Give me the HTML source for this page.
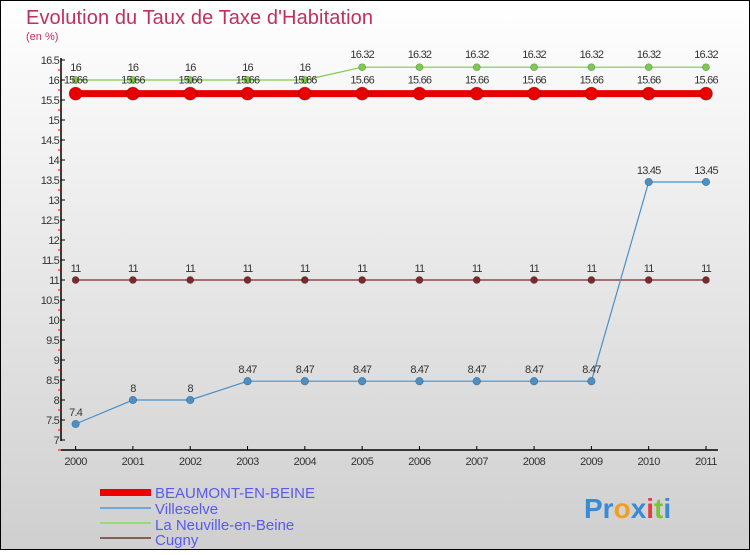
<!DOCTYPE html>
<html><head><meta charset="utf-8"><style>
html,body{margin:0;padding:0}
body{width:750px;height:550px;overflow:hidden;font-family:"Liberation Sans",sans-serif}
</style></head><body>
<svg id="chart" width="750" height="550" xmlns="http://www.w3.org/2000/svg">
<defs><linearGradient id="bg" x1="0" y1="0" x2="0" y2="1"><stop offset="0" stop-color="#ffffff"/><stop offset="1" stop-color="#cfcfcf"/></linearGradient></defs>
<rect x="0.5" y="0.5" width="749" height="549" fill="url(#bg)" stroke="#000"/>
<text x="26" y="24" font-size="20" fill="#c0305e" textLength="347">Evolution du Taux de Taxe d'Habitation</text>
<text x="26" y="40" font-size="11" fill="#c0305e">(en %)</text>
<g id="plot"></g>
<g id="legend">
<rect x="100" y="489" width="51" height="7" fill="#e00"/>
<text x="155" y="498" font-size="15" fill="#5a5aee">BEAUMONT-EN-BEINE</text>
<rect x="100" y="507" width="51" height="2" fill="#6fa8d6"/>
<text x="155" y="514" font-size="15" fill="#5a5aee">Villeselve</text>
<rect x="100" y="522" width="51" height="2" fill="#99d97a"/>
<text x="155" y="530" font-size="15" fill="#5a5aee">La Neuville-en-Beine</text>
<rect x="100" y="537" width="51" height="2" fill="#8a5a5a"/>
<text x="155" y="545" font-size="15" fill="#5a5aee">Cugny</text>
</g>
<text x="584" y="518" font-size="28" font-weight="bold"><tspan fill="#3a8ad8">Pr</tspan><tspan fill="#f0a020">o</tspan><tspan fill="#3a8ad8">x</tspan><tspan fill="#e04040">i</tspan><tspan fill="#80c040">t</tspan><tspan fill="#3a8ad8">i</tspan></text>
</svg>
<script>
const years=[2000,2001,2002,2003,2004,2005,2006,2007,2008,2009,2010,2011];
const yTicks=[7,7.5,8,8.5,9,9.5,10,10.5,11,11.5,12,12.5,13,13.5,14,14.5,15,15.5,16,16.5];
const beaumont=[15.66,15.66,15.66,15.66,15.66,15.66,15.66,15.66,15.66,15.66,15.66,15.66];
const villeselve=[7.4,8,8,8.47,8.47,8.47,8.47,8.47,8.47,8.47,13.45,13.45];
const neuville=[16,16,16,16,16,16.32,16.32,16.32,16.32,16.32,16.32,16.32];
const cugny=[11,11,11,11,11,11,11,11,11,11,11,11];
const NS="http://www.w3.org/2000/svg";
const g=document.getElementById('plot');
const xS=i=>75.6+i*(706-75.6)/(years.length-1);
const yS=v=>440-(v-7)*40;
function el(t,a,p){const e=document.createElementNS(NS,t);for(const k in a)e.setAttribute(k,a[k]);(p||g).appendChild(e);return e;}
let ax=el('line',{x1:61,y1:58,x2:61,y2:441,stroke:'#000','stroke-width':1.5});


let xa=el('line',{x1:61,y1:450,x2:718,y2:450,stroke:'#000','stroke-width':1.5});


yTicks.forEach(v=>{
  el('line',{x1:61,y1:yS(v),x2:65,y2:yS(v),stroke:'#000'});
  el('line',{x1:58,y1:yS(v)+10,x2:61,y2:yS(v)+10,stroke:'#e00'});
  const t=el('text',{x:59,y:yS(v)+4,'font-size':11,'text-anchor':'end',fill:'#333','letter-spacing':'-0.8'});
  
  
  t.textContent=v;
});
years.forEach((y,i)=>{
  el('line',{x1:xS(i),y1:446,x2:xS(i),y2:450,stroke:'#000'});
  const t=el('text',{x:xS(i),y:465,'font-size':11,'text-anchor':'middle',fill:'#333','letter-spacing':'-0.5'});
  
  
  t.textContent=y;
});
function series(name,vals,color,w,r,labels,dy){
  const pts=vals.map((v,i)=>xS(i)+','+yS(v)).join(' ');
  const pl=el('polyline',{points:pts,fill:'none',stroke:color,'stroke-width':w});
  
  
  vals.forEach((v,i)=>{
    const c=el('circle',{cx:xS(i),cy:yS(v),r:r,fill:color,stroke:'rgba(0,0,0,0.3)','stroke-width':0.7});
    
    
    if(labels){
      const t=el('text',{x:xS(i),y:yS(v)+dy,'font-size':11,'text-anchor':'middle',fill:'#333','letter-spacing':'-0.8'});
      
      
      t.textContent=v;
    }
  });
}
series('cugny',cugny,'#7a2a2a',1.2,3.5,true,-8);
series('villeselve',villeselve,'#4a90c8',1.2,3.8,true,-8);
series('neuville',neuville,'#7ccc4a',1.2,3.5,true,-9);
series('beaumont',beaumont,'#e80000',7,6.5,false,0);
beaumont.forEach((v,i)=>{
  const t=el('text',{x:xS(i),y:yS(v)-10,'font-size':11,'text-anchor':'middle',fill:'#333','letter-spacing':'-0.8'});
  
  
  t.textContent=v;
});
</script>
</body></html>
